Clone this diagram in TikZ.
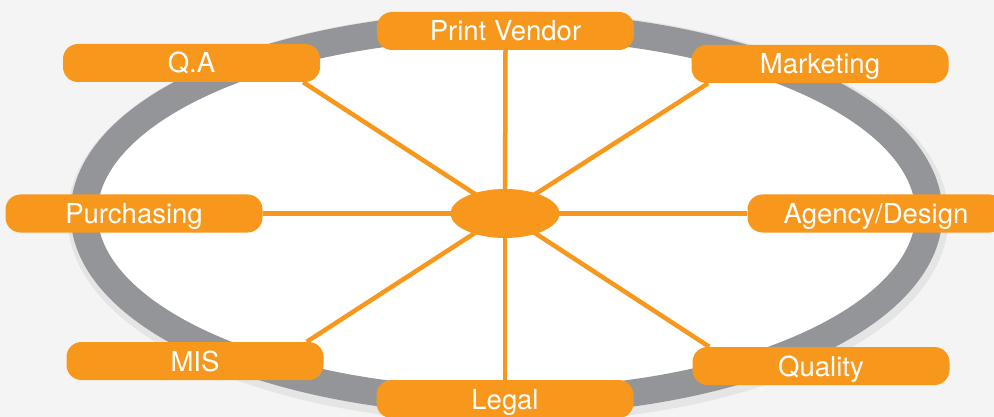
\documentclass[tikz,border=0pt]{standalone}
\usepackage{fontspec}
\setmainfont{TeX Gyre Heros}
\usetikzlibrary{calc,shapes.geometric}
\definecolor{orng}{HTML}{F7981D}
\definecolor{ringgray}{HTML}{939598}
\definecolor{paper}{HTML}{F4F4F4}
\pgfdeclarelayer{back}
\pgfdeclarelayer{spokes}
\pgfsetlayers{back,spokes,main}

\begin{document}
\begin{tikzpicture}[x=1pt, y=-1pt,
  dept/.style={fill=orng, text=white, rounded corners=15pt, minimum width=257pt,
    minimum height=38pt, inner sep=0pt, text height=20pt, text depth=0pt,
    font=\fontsize{27.5}{30}\selectfont},
  spoke/.style={draw=orng, line width=4.5pt}]

\useasboundingbox (0,0) rectangle (994,417);

\begin{pgfonlayer}{back}
\fill[paper] (0,0) rectangle (994,417);
% soft shadow under the ring
\draw[black, opacity=0.06, line width=36pt] (508,217) ellipse [x radius=422.5, y radius=188];
\draw[ringgray, line width=27pt, fill=white] (506.5,213.5) ellipse [x radius=422.5, y radius=188];
\end{pgfonlayer}

\node[name=core, shape=ellipse, fill=orng, minimum width=109pt, minimum height=49pt, inner sep=0pt] at (505,213.5) {};

\node[name=vendor, dept] at (505.5,31) {Print Vendor};
\node[name=qa, dept] at (191.5,63) {Q.A};
\node[name=mkt, dept] at (820,64) {Marketing};
\node[name=purch, dept] at (134,213.5) {Purchasing};
\node[name=agency, dept] at (876,213.5) {Agency/Design};
\node[name=mis, dept] at (195,361) {MIS};
\node[name=quality, dept] at (821,366) {Quality};
\node[name=legal, dept] at (505,399) {Legal};

\begin{pgfonlayer}{spokes}
\draw[spoke] (core.center) -- (vendor.south);
\draw[spoke] (core.center) -- (legal.north);
\draw[spoke] (core.center) -- (purch.east);
\draw[spoke] (core.center) -- (agency.west);
\draw[spoke] (core.center) -- ($(qa.south east)+(-17,0)$);
\draw[spoke] (core.center) -- ($(mkt.south west)+(17,0)$);
\draw[spoke] (core.center) -- ($(mis.north east)+(-17,0)$);
\draw[spoke] (core.center) -- ($(quality.north west)+(17,0)$);
\end{pgfonlayer}

\end{tikzpicture}
\end{document}
